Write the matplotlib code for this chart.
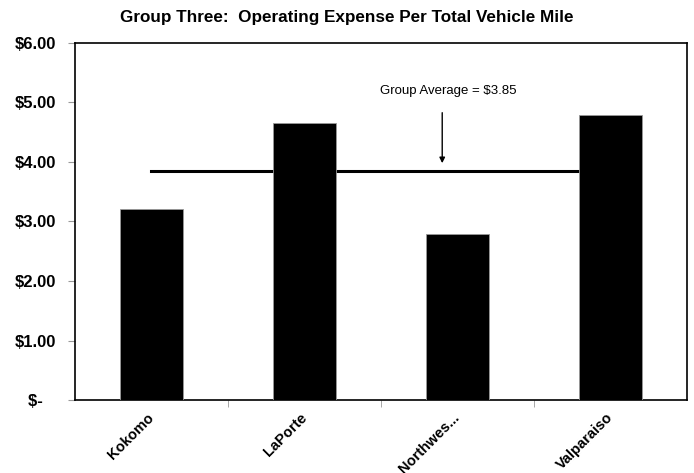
import matplotlib
matplotlib.use('Agg')
from matplotlib import pyplot as plt

plt.rcParams['font.family'] = ['Liberation Sans', 'DejaVu Sans']

categories = ['Kokomo', 'LaPorte', 'Northwes...', 'Valparaiso']
values = [3.20, 4.65, 2.79, 4.79]
group_avg = 3.85
y_ticks = [0, 1, 2, 3, 4, 5, 6]
y_labels = ['$-\u00a0\u00a0\u00a0', '$1.00', '$2.00', '$3.00', '$4.00', '$5.00', '$6.00']

fig = plt.figure(figsize=(6.94, 4.73), dpi=100)
ax = fig.add_axes([0.108, 0.154, 0.882, 0.756])

x = list(range(len(categories)))
ax.bar(x, values, width=0.41, color='black', edgecolor='#999999', linewidth=0.6, zorder=3)
ax.plot([x[0], x[-1]], [group_avg, group_avg], color='black', linewidth=2.2, zorder=2)

ax.set_xlim(-0.5, len(categories) - 0.5)
ax.set_ylim(0, 6)
ax.set_yticks(y_ticks)
ax.set_yticklabels(y_labels, fontsize=12, fontweight='bold')
ax.tick_params(axis='y', length=5, color='#999999', pad=8.5)

ax.set_xticks(x)
ax.set_xticklabels(categories, rotation=45, ha='right', va='center',
                   rotation_mode='anchor', fontsize=10.5, fontweight='bold')
ax.tick_params(axis='x', length=0, pad=11)
ax.set_xticks([0.5, 1.5, 2.5], minor=True)
ax.tick_params(axis='x', which='minor', length=5, color='#999999')

for s in ax.spines.values():
    s.set_color('black')
    s.set_linewidth(1.2)

ax.annotate('', xy=(1.90, 3.93), xytext=(1.90, 4.87),
            arrowprops=dict(arrowstyle='-|>', color='black', lw=1, mutation_scale=8))
ax.text(1.94, 5.18, 'Group Average = $3.85', ha='center', va='center', fontsize=9.5)

fig.suptitle('Group Three:  Operating Expense Per Total Vehicle Mile',
             x=0.5, y=0.962, va='center', fontsize=12.3, fontweight='bold')

fig.savefig('out.png', dpi=100)
